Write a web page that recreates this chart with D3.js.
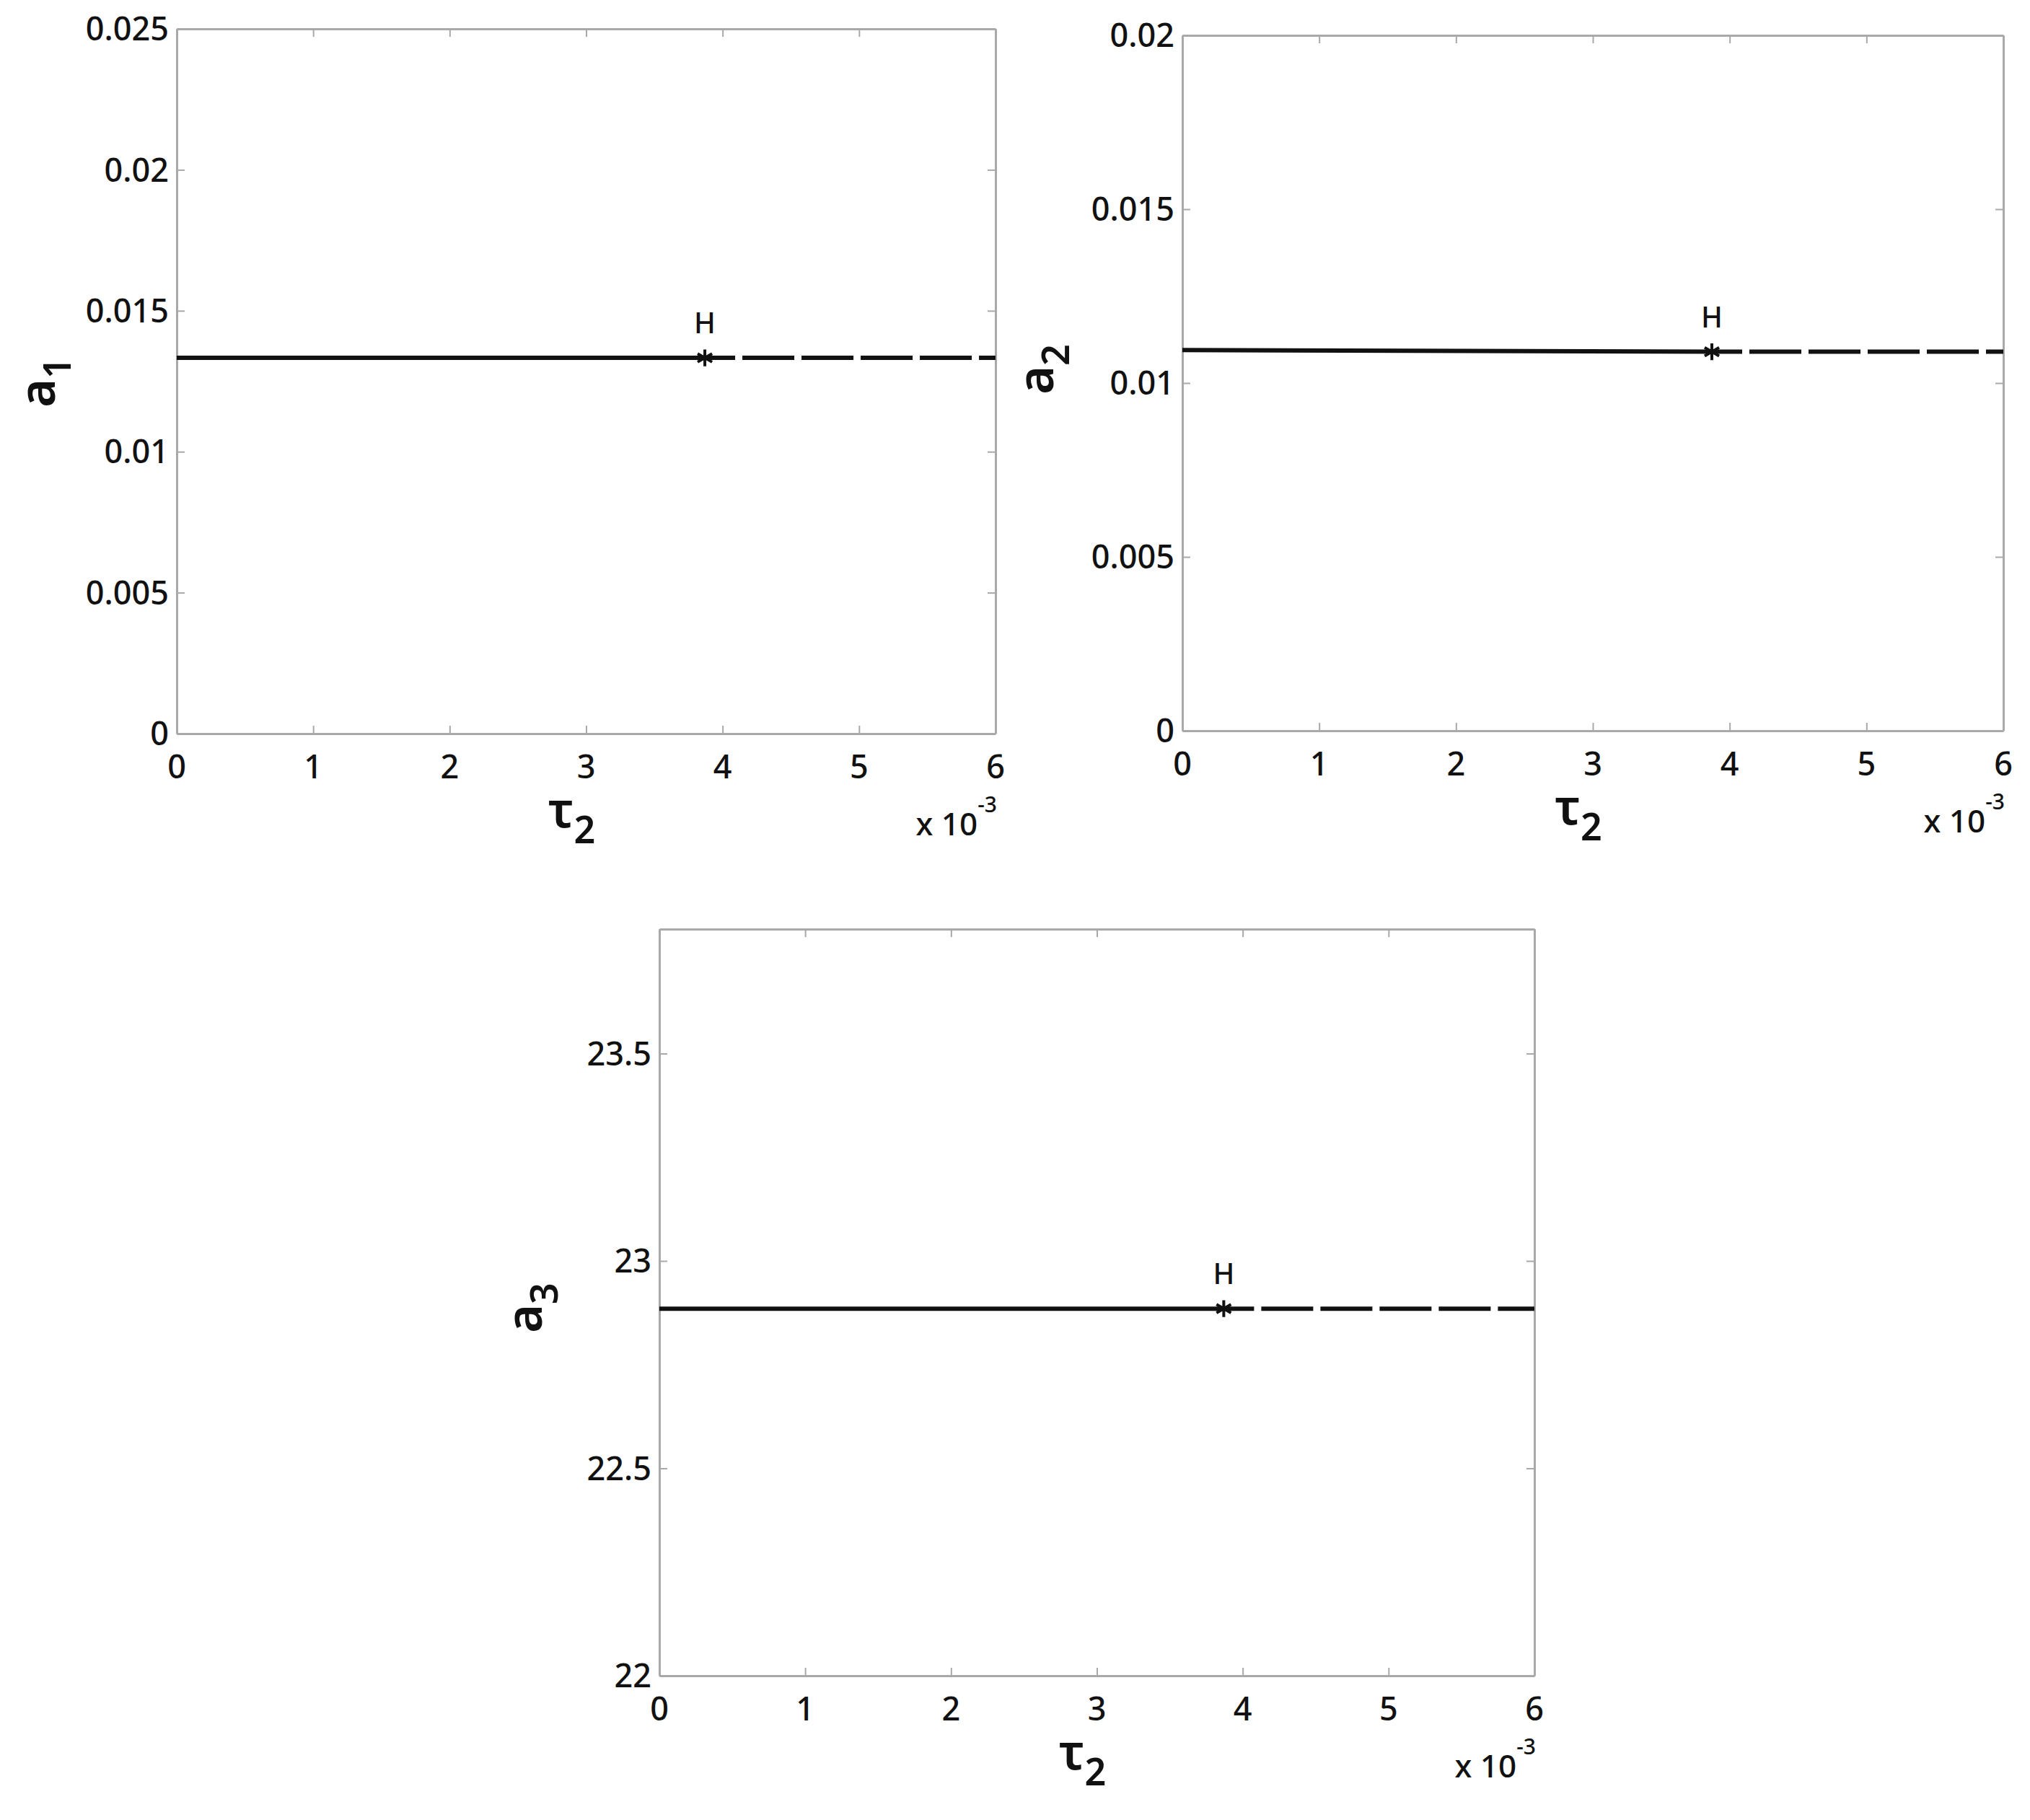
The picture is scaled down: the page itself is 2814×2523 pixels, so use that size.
<!DOCTYPE html>
<html>
<head>
<meta charset="utf-8">
<style>
  body { margin: 0; background: #fff; }
  text { font-family: "Noto Sans", "Open Sans", sans-serif; fill: #111; font-weight: 500; }
  .frame line, .frame path { stroke: #a9a9a9; }
  .frame path.domain { stroke-width: 3; }
</style>
</head>
<body>
<svg width="2814" height="2523"></svg>
<script src="https://d3js.org/d3.v7.min.js"></script>
<script>

// tau_2 (x 10^-3) at the Hopf point H, and the ends of the branch
var tauStable = [0, 3.87];
var tauUnstable = [3.87, 6];
var hopfTau = 3.87;

// equilibrium values along the branch
var a1Stable = [0.01333, 0.01333];
var a1Unstable = [0.01333, 0.01333];
var a2Stable = [0.01095, 0.01090];
var a2Unstable = [0.01090, 0.01090];
var a3Stable = [22.885, 22.885];
var a3Unstable = [22.885, 22.885];

var xTicks = [0, 1, 2, 3, 4, 5, 6];
var yTicks1 = [0, 0.005, 0.01, 0.015, 0.02, 0.025];
var yTicks2 = [0, 0.005, 0.01, 0.015, 0.02];
var yTicks3 = [22, 22.5, 23, 23.5];

// layout of the three panels (pixels)
var panels = [
  {x0: 245, x1: 1380, y0: 40, y1: 1017, yDom: [0, 0.025], yTicks: yTicks1, sub: "1",
   stable: a1Stable, unstable: a1Unstable, ylx: 52, yly: 530},
  {x0: 1639, x1: 2777, y0: 49, y1: 1013, yDom: [0, 0.02], yTicks: yTicks2, sub: "2",
   stable: a2Stable, unstable: a2Unstable, ylx: 1436, yly: 512},
  {x0: 914, x1: 2127, y0: 1288, y1: 2323, yDom: [22, 23.8], yTicks: yTicks3, sub: "3",
   stable: a3Stable, unstable: a3Unstable, ylx: 727, yly: 1813}
];

var svg = d3.select("svg");

panels.forEach(function(p) {
  var x = d3.scaleLinear().domain([0, 6]).range([p.x0, p.x1]);
  var y = d3.scaleLinear().domain(p.yDom).range([p.y1, p.y0]);
  var fmt = function(d) { return String(+d.toFixed(4)); };

  var g = svg.append("g");

  // box with inward ticks on all four sides
  g.append("g").attr("class", "frame")
    .attr("transform", "translate(0," + p.y1 + ")")
    .call(d3.axisBottom(x).tickValues(xTicks).tickSizeInner(-11).tickSizeOuter(0).tickFormat(""));
  g.append("g").attr("class", "frame")
    .attr("transform", "translate(0," + p.y0 + ")")
    .call(d3.axisTop(x).tickValues(xTicks).tickSizeInner(-11).tickSizeOuter(0).tickFormat(""));
  g.append("g").attr("class", "frame")
    .attr("transform", "translate(" + p.x0 + ",0)")
    .call(d3.axisLeft(y).tickValues(p.yTicks).tickSizeInner(-11).tickSizeOuter(0).tickFormat(""));
  g.append("g").attr("class", "frame")
    .attr("transform", "translate(" + p.x1 + ",0)")
    .call(d3.axisRight(y).tickValues(p.yTicks).tickSizeInner(-11).tickSizeOuter(0).tickFormat(""));
  g.selectAll(".frame line").attr("stroke-width", 2);

  // tick labels
  g.selectAll(".xl").data(xTicks).enter().append("text")
    .attr("x", function(d) { return x(d); })
    .attr("y", p.y1 + 62)
    .attr("text-anchor", "middle")
    .style("font-size", "45px")
    .text(fmt);
  g.selectAll(".yl").data(p.yTicks).enter().append("text")
    .attr("x", p.x0 - 11)
    .attr("y", function(d) { return y(d); })
    .attr("dy", "0.36em")
    .attr("text-anchor", "end")
    .style("font-size", "45px")
    .text(fmt);

  // x 10^-3 multiplier
  var m = g.append("text")
    .attr("x", p.x1 + 2)
    .attr("y", p.y1 + 141)
    .attr("text-anchor", "end")
    .style("font-size", "44px");
  m.append("tspan").text("x 10");
  m.append("tspan").attr("dy", -32).style("font-size", "30px").text("-3");

  // axis labels
  var xl = g.append("text")
    .attr("x", (p.x0 + p.x1) / 2 - 20)
    .attr("y", p.y1 + 130)
    .attr("text-anchor", "middle")
    .style("font-size", "68px")
    .style("font-weight", "600");
  xl.append("tspan").text("τ");
  xl.append("tspan").attr("dy", 22).style("font-size", "52px").text("2");

  var yl = g.append("text")
    .attr("transform", "translate(" + p.ylx + "," + p.yly + ") rotate(-90)")
    .attr("text-anchor", "middle")
    .attr("dy", "0.35em")
    .style("font-size", "68px")
    .style("font-weight", "600");
  yl.append("tspan").text("a");
  yl.append("tspan").attr("dy", 22).style("font-size", "52px").text(p.sub);

  // stable (solid) and unstable (dashed) parts of the branch
  var line = d3.line()
    .x(function(d) { return x(d[0]); })
    .y(function(d) { return y(d[1]); });
  g.append("path")
    .attr("d", line(d3.zip(tauStable, p.stable)))
    .attr("fill", "none").attr("stroke", "#111").attr("stroke-width", 6);
  g.append("path")
    .attr("d", line(d3.zip(tauUnstable, p.unstable)))
    .attr("fill", "none").attr("stroke", "#111").attr("stroke-width", 6)
    .attr("stroke-dasharray", "72,10")
    .attr("stroke-dashoffset", 30);

  // Hopf point
  var hy = y(p.unstable[0]);
  g.append("path")
    .attr("d", d3.symbol().type(d3.symbolAsterisk).size(380)())
    .attr("transform", "translate(" + x(hopfTau) + "," + hy + ")")
    .attr("fill", "none").attr("stroke", "#111").attr("stroke-width", 4);
  g.append("text")
    .attr("x", x(hopfTau))
    .attr("y", hy - 34)
    .attr("text-anchor", "middle")
    .style("font-size", "40px")
    .text("H");
});

</script>
</body>
</html>
